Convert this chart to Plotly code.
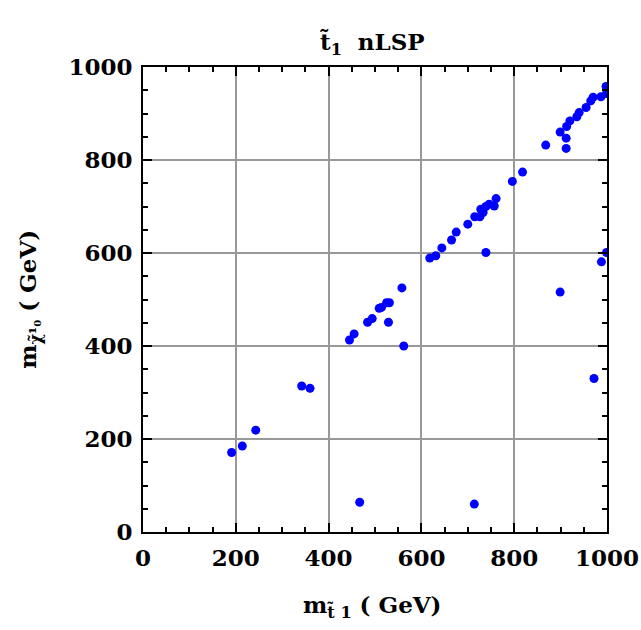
import plotly.graph_objects as go

# stop mass (GeV)
m_stop = [191, 214, 243, 342, 360, 445, 455, 484, 494, 509, 514, 525, 531, 529, 558, 562,
          467, 618, 631, 644, 665, 675, 700, 715, 726, 728, 733, 739, 746, 757, 761, 739,
          714, 796, 818, 868, 912, 899, 912, 913, 920, 935, 940, 955, 965, 970, 987, 998,
          999, 988, 999, 899, 972]
# neutralino mass (GeV)
m_chi = [171, 185, 219, 314, 309, 413, 426, 451, 459, 481, 483, 493, 493, 451, 525, 400,
         64, 589, 594, 611, 628, 645, 662, 678, 678, 694, 687, 700, 705, 701, 717, 601,
         60, 754, 774, 832, 825, 860, 847, 872, 884, 893, 902, 913, 927, 935, 936, 958,
         943, 581, 601, 516, 330]

tick_vals = [0, 200, 400, 600, 800, 1000]
tick_text = ["0", "200", "400", "600", "800", "1000"]

FONT = "DejaVu Serif"

fig = go.Figure()
fig.add_trace(go.Scatter(
    x=m_stop, y=m_chi, mode="markers",
    marker=dict(color="#0000ff", size=9, line=dict(width=0)),
    showlegend=False, cliponaxis=True,
))

axis_common = dict(
    range=[0, 1000], tickvals=tick_vals, ticktext=["<b>%s</b>" % t for t in tick_text],
    ticks="inside", ticklen=9, tickwidth=2, tickcolor="black",
    minor=dict(dtick=50, ticks="inside", ticklen=5, tickwidth=1.5, tickcolor="black", showgrid=False),
    showline=True, linecolor="black", linewidth=2, mirror="ticks",
    showgrid=True, gridcolor="#999999", gridwidth=1.5,
    zeroline=False, automargin=False,
    tickfont=dict(family=FONT, size=23, color="black"),
)

fig.update_layout(
    width=641, height=630,
    margin=dict(l=143, r=34, t=67, b=98),
    paper_bgcolor="white", plot_bgcolor="white",
    xaxis=dict(**axis_common, ticklabelstandoff=4),
    yaxis=dict(**axis_common, ticklabelstandoff=4),
    annotations=[
        dict(text="<b>t̃<sub>1</sub>  nLSP</b>", xref="paper", yref="paper",
             x=0.495, y=1.05, xanchor="center", yanchor="middle", showarrow=False,
             font=dict(family=FONT, size=23, color="black")),
        dict(text="<b>m<sub>t̃ 1</sub> ( GeV)</b>", xref="paper", yref="paper",
             x=0.495, y=-0.16, xanchor="center", yanchor="middle", showarrow=False,
             font=dict(family=FONT, size=23, color="black")),
        dict(text="<b>m<sub>χ̃¹₀</sub> ( GeV)</b>", xref="paper", yref="paper",
             x=-0.245, y=0.5, xanchor="center", yanchor="middle", showarrow=False,
             textangle=-90, font=dict(family=FONT, size=23, color="black")),
    ],
)

fig.write_html("out.html")
